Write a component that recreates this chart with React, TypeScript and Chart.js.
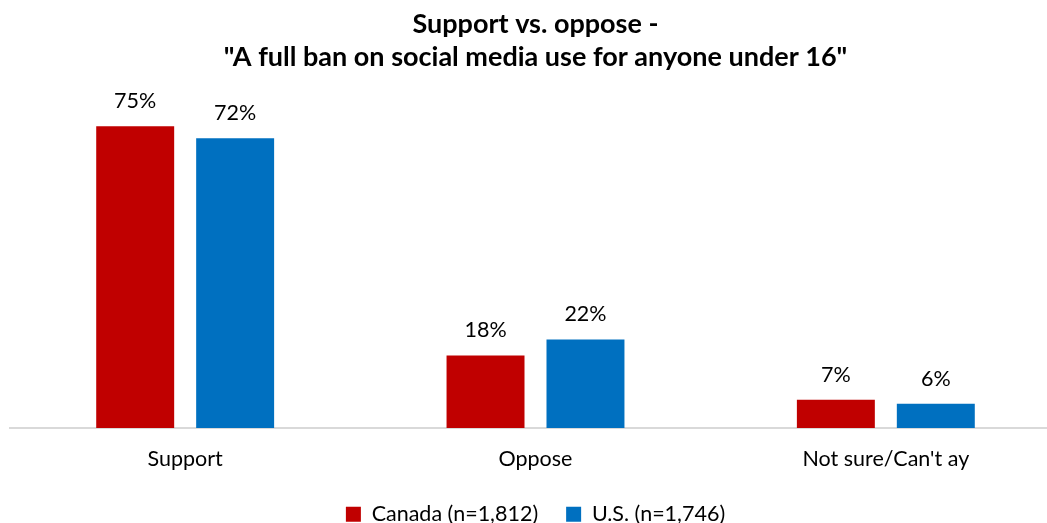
import React, { useEffect, useRef } from "react";
import { Chart, registerables } from "chart.js";

Chart.register(...registerables);

const categories = ["Support", "Oppose", "Not sure/Can't ay"];
const canadaValues = [75, 18, 7];
const usValues = [72, 22, 6];
const seriesLabels = ["Canada (n=1,812)", "U.S. (n=1,746)"];
const titleLines = ["Support vs. oppose -", '"A full ban on social media use for anyone under 16"'];

const FONT = "Lato, 'Noto Sans', sans-serif";

const valueLabelPlugin = {
  id: "valueLabels",
  afterDatasetsDraw(chart: any) {
    const ctx = chart.ctx;
    ctx.save();
    ctx.font = `21.5px ${FONT}`;
    ctx.fillStyle = "#000000";
    ctx.textAlign = "center";
    ctx.textBaseline = "middle";
    chart.data.datasets.forEach((ds: any, i: number) => {
      const meta = chart.getDatasetMeta(i);
      meta.data.forEach((bar: any, j: number) => {
        ctx.fillText(`${ds.data[j]}%`, bar.x, bar.y - 25);
      });
    });
    ctx.restore();
  },
};

export default function App() {
  const ref = useRef<HTMLCanvasElement>(null);
  useEffect(() => {
    if (!ref.current) return;
    const chart = new Chart(ref.current, {
      type: "bar",
      data: {
        labels: categories,
        datasets: [
          {
            label: seriesLabels[0],
            data: canadaValues,
            backgroundColor: "#C00000",
            categoryPercentage: 0.5706,
            barPercentage: 0.78,
          },
          {
            label: seriesLabels[1],
            data: usValues,
            backgroundColor: "#0070C0",
            categoryPercentage: 0.5706,
            barPercentage: 0.78,
          },
        ],
      },
      options: {
        responsive: false,
        animation: false,
        layout: { padding: { left: 10, right: 9, top: 0, bottom: 0 } },
        plugins: {
          title: {
            display: true,
            text: titleLines,
            color: "#000000",
            font: { family: FONT, size: 27, weight: "bold", lineHeight: 1.222 },
            padding: { top: 7.5, bottom: 26.5 },
          },
          legend: {
            position: "bottom",
            labels: {
              color: "#000000",
              font: { family: FONT, size: 21.5, lineHeight: 1.0 },
              boxWidth: 15,
              boxHeight: 15,
              padding: 28,
            },
          },
          tooltip: { enabled: false },
        },
        scales: {
          x: {
            grid: { display: false, drawTicks: false },
            border: { display: true, color: "#D9D9D9", width: 2 },
            ticks: {
              color: "#000000",
              font: { family: FONT, size: 21.5 },
              padding: 18,
            },
            afterFit: (scale: any) => {
              scale.height -= 14.3;
            },
          },
          y: {
            display: false,
            min: 0,
            max: 81.5,
          },
        },
      },
      plugins: [valueLabelPlugin],
    });
    return () => chart.destroy();
  }, []);
  return (
    <div
      style={{
        position: "fixed",
        left: 0,
        top: 0,
        width: 1047,
        height: 523,
        overflow: "hidden",
        background: "#ffffff",
      }}
    >
      <canvas ref={ref} width={1070} height={535} style={{ display: "block" }} />
    </div>
  );
}
